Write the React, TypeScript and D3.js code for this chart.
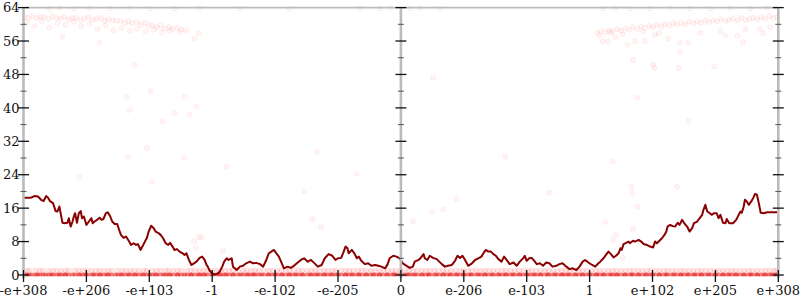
import React from 'react';
import * as d3 from 'd3';

const W = 800;
const H = 300;

// x axis: bit-pattern bins 0..1200, ticks every 100
const xTickBins = [0, 100, 200, 300, 400, 500, 600, 700, 800, 900, 1000, 1100, 1200];
const xTickLabels = ['-e+308', '-e+206', '-e+103', '-1', '-e-102', '-e-205', '0', 'e-206', 'e-103', '1', 'e+102', 'e+205', 'e+308'];
const yMajorTicks = [0, 8, 16, 24, 32, 40, 48, 56, 64];
const yMinorTicks = [4, 12, 20, 28, 36, 44, 52, 60];
const axisBins = [0, 600, 1200];

// main line: [bin, value]
const lineLeft: [number, number][] = [
  [0,18.5],[12,18.5],[18,18.9],[23,18.8],[28,18.0],[32,17.7],[36,18.9],[39,18.5],[42,17.7],[47,17.2],
  [51,15.3],[54,15.2],[57,16.4],[59,14.8],[62,12.5],[65,12.4],[70,12.5],[72,13.6],[75,11.6],[78,12.8],
  [80,14.0],[82,14.8],[85,12.5],[88,14.8],[91,15.3],[93,13.6],[96,14.0],[100,12.0],[104,12.8],[108,13.6],
  [110,12.4],[113,12.8],[117,13.2],[121,13.7],[124,13.2],[127,13.4],[131,14.8],[134,15.0],[138,14.0],[141,12.8],
  [145,12.2],[149,12.2],[152,10.8],[155,9.6],[159,8.9],[163,9.2],[168,8.0],[171,7.2],[175,7.6],[179,7.2],
  [182,7.4],[186,6.0],[189,6.8],[193,8.0],[196,8.8],[199,10.4],[203,11.8],[207,11.2],[210,10.4],[214,10.1],
  [218,9.6],[222,8.8],[226,7.6],[230,7.2],[233,7.7],[237,6.8],[240,6.0],[244,6.2],[248,5.6],[253,5.2],
  [256,4.8],[259,5.2],[263,3.6],[267,2.4],[271,2.8],[275,3.2],[280,4.1],[284,4.4],[288,3.6],[291,2.4],
  [293,2.0],[296,1.0],[300,0.4]
];
const lineMidLeft: [number, number][] = [
  [301,0.2],[307,0.2],[312,0.8],[316,2.0],[319,3.2],[323,4.0],[326,3.6],[331,4.0],[333,2.0],[339,1.2],
  [344,2.0],[349,2.2],[354,2.8],[360,3.2],[365,2.8],[370,2.9],[376,2.6],[381,2.0],[386,3.6],[390,5.2],
  [394,5.6],[398,6.0],[402,5.2],[406,4.4],[410,3.0],[414,1.6],[420,2.0],[425,1.7],[430,2.2],[436,3.0],
  [441,3.6],[446,4.0],[452,3.2],[457,3.6],[462,2.9],[468,2.0],[474,2.4],[479,4.0],[485,5.0],[491,4.6],
  [496,3.6],[500,4.0],[505,4.1],[508,5.2],[512,6.8],[515,6.4],[517,5.2],[522,6.0],[526,5.2],[530,4.0],
  [533,4.4],[537,3.4],[543,2.6],[548,2.8],[553,2.2],[559,2.4],[564,2.2],[569,2.0],[575,1.6],[579,2.6],
  [582,4.0],[588,4.6],[593,4.4],[598,4.0]
];
const lineMidRight: [number, number][] = [
  [603,2.8],[609,2.2],[614,1.7],[619,2.0],[622,3.2],[628,3.6],[631,4.0],[636,5.0],[638,4.0],[642,3.6],
  [646,4.6],[651,4.1],[657,3.8],[661,3.2],[665,2.6],[670,2.0],[675,2.2],[681,2.4],[686,3.4],[690,4.6],
  [694,4.1],[698,4.6],[702,3.6],[707,2.2],[713,2.8],[718,3.6],[723,4.0],[728,4.4],[732,5.4],[735,6.0],
  [739,5.6],[743,5.6],[747,5.0],[751,4.6],[755,3.8],[760,3.2],[764,4.4],[768,3.6],[773,2.6],[779,3.0],
  [784,2.2],[789,3.2],[795,4.1],[797,4.6],[800,3.4],[804,4.0],[808,4.1],[812,3.4],[816,2.6],[821,2.8],
  [826,2.2],[831,3.0],[836,2.8],[841,2.0],[847,2.2],[852,2.6],[857,2.8],[863,2.0],[868,1.4],[873,1.6],
  [879,1.2],[884,2.0],[889,3.2],[893,3.6],[898,3.0],[904,2.4],[909,2.0],[914,2.8]
];
const lineRight: [number, number][] = [
  [917,3.2],[922,4.0],[926,4.8],[930,5.6],[934,5.0],[938,4.2],[942,4.6],[946,5.2],[949,6.4],[951,6.0],
  [954,7.4],[958,7.7],[962,8.0],[964,7.6],[969,8.2],[972,8.0],[978,8.4],[982,8.0],[986,7.4],[991,7.2],
  [996,6.8],[1001,6.6],[1004,8.0],[1007,7.6],[1011,8.2],[1015,8.8],[1019,9.6],[1022,10.4],[1024,11.6],[1028,12.0],
  [1032,11.7],[1036,11.6],[1040,12.5],[1043,12.0],[1047,13.2],[1050,12.5],[1055,11.6],[1059,10.4],[1063,11.2],[1066,12.4],
  [1071,12.8],[1075,13.6],[1079,14.4],[1081,15.6],[1084,16.8],[1087,15.2],[1091,14.8],[1094,14.4],[1098,14.8],[1102,14.8],
  [1105,13.6],[1108,14.4],[1112,12.5],[1116,12.4],[1118,13.4],[1122,12.4],[1128,12.4],[1133,13.2],[1137,14.4],[1140,15.2],
  [1142,14.9],[1145,16.4],[1147,18.0],[1150,17.6],[1153,16.8],[1157,17.6],[1160,18.4],[1163,19.4],[1166,19.2],[1169,17.2],
  [1172,14.9],[1177,14.8],[1182,15.0],[1200,15.0]
];

// faint scatter: [bin, value]
const topRowLeft: [number, number][] = [
  [2,61.9],[8,61.6],[14,62.0],[21,61.5],[27,61.8],[33,61.7],[40,61.3],[46,61.9],[53,61.6],[59,61.4],
  [65,61.8],[72,61.2],[78,61.6],[84,61.5],[91,61.0],[97,61.4],[103,61.7],[110,61.1],[116,61.3],[123,61.5],
  [129,60.9],[135,61.2],[142,61.0],[148,60.8],[154,60.9],[161,60.4],[167,60.7],[173,60.2],[180,60.5],[186,59.9],
  [193,60.3],[199,59.6],[205,59.8],[212,59.3],[218,59.7],[224,59.0],[231,59.4],[237,58.8],[244,59.2],
  [5,60.4],[18,59.6],[29,60.8],[41,59.2],[54,60.2],[67,59.9],[80,60.6],[92,59.5],[105,60.1],[118,58.9],
  [131,59.7],[143,58.6],[156,59.1],[169,58.4],[181,58.9],[194,58.2],[207,58.7],[220,58.0],[232,58.5],[248,58.1],[258,58.6]
];
const topRowRight: [number, number][] = [
  [1198,61.8],[1192,61.5],[1186,61.9],[1179,61.4],[1173,61.7],[1167,61.2],[1160,61.6],[1154,61.3],[1148,61.0],[1141,61.5],
  [1135,60.9],[1128,61.3],[1122,61.1],[1116,60.8],[1109,61.2],[1103,60.7],[1097,61.0],[1090,60.5],[1084,60.9],[1077,60.4],
  [1071,60.7],[1065,60.2],[1058,60.6],[1052,60.0],[1046,60.4],[1039,59.9],[1033,60.3],[1027,59.7],[1020,60.1],[1014,59.5],
  [1007,59.9],[1001,59.3],[995,59.7],[988,59.1],[982,59.5],[976,58.9],[969,59.3],[963,58.7],[957,59.0],[950,58.5],
  [944,58.8],[937,58.3],[931,58.6],[925,58.1],[918,58.4],[912,57.9],
  [921,55.9],[929,55.9],[960,55.1],[972,56.0],[988,56.0],[1025,56.5],[1044,55.6],[1057,55.6],[1116,57.3],[1135,57.3],
  [1144,55.7],[1171,58.9],[1176,57.9],[1004,57.5],[1076,58.0],[1108,58.4],[1148,58.8],[1187,59.3],[941,57.0],
  [916,57.4],[933,58.0],[953,57.6],[985,58.2],[1010,57.9]
];
const topEdge: [number, number][] = [
  [41,63.8],[57,63.9],[81,63.7],[105,63.9],[137,63.8],[169,63.9],[201,63.7],[240,63.8],[280,63.9],[344,63.8],
  [423,63.7],[535,63.9],[567,63.8],[583,63.9],[615,63.8],[630,63.9],[662,63.7],[921,63.8],[941,63.9],[964,63.7],
  [996,63.8],[1028,63.9],[1060,63.8],[1092,63.7],[1124,63.9],[1155,63.8],[1182,63.9]
];
const scattered: [number, number][] = [
  [62,57.0],[121,55.6],[177,50.3],[164,42.7],[169,39.5],[202,44.1],[221,36.7],[256,42.7],[275,40.3],[240,38.8],
  [264,38.4],[196,30.4],[272,56.6],[279,57.8],[251,58.7],[89,23.5],[166,28.3],[256,28.0],[204,22.3],[271,8.1],
  [279,9.1],[274,6.5],[323,25.9],[283,8.9],[317,5.8],[446,19.9],[460,13.4],[473,11.5],[530,24.2],[466,29.5],
  [619,12.9],[649,15.1],[667,15.6],[688,18.2],[766,28.3],[836,19.7],[937,27.1],[966,21.1],[968,19.7],[1039,21.1],
  [925,12.7],[941,9.6],[937,8.4],[976,16.3],[953,4.1],[969,11.0],[969,51.5],[1001,50.3],[1003,49.6],[1041,49.6],
  [1098,49.9],[976,42.4],[1057,36.9],[651,47.2],[1044,53.5]
];
// bottom band: bins holding value 0 and value 1
const zeroBins = [
  2,13,22,35,44,57,66,78,90,99,111,122,133,146,155,167,178,189,201,210,223,233,245,256,267,279,288,301,312,322,
  334,345,357,366,378,389,400,411,423,433,444,456,467,478,489,500,512,522,533,545,556,566,578,589,600,611,622,634,
  644,656,667,678,689,700,711,723,733,745,756,767,778,789,800,812,822,834,845,856,866,878,889,900,911,922,934,944,
  956,967,978,989,1000,1011,1022,1034,1045,1056,1067,1078,1089,1100,1112,1122,1133,1145,1156,1167,1178,1189,1198
];
const oneBins = [
  5,19,31,47,60,72,88,101,115,128,140,157,170,183,196,212,226,238,251,266,280,293,307,320,333,349,362,374,390,403,
  417,430,443,458,471,484,497,512,525,538,552,566,579,592,606,619,633,646,660,673,687,700,713,727,740,754,767,781,
  795,808,822,835,849,862,876,889,903,916,930,943,957,970,984,997,1011,1024,1038,1051,1065,1078,1092,1105,1119,1132,
  1146,1159,1173,1186,1197,
  9,26,40,53,67,82,95,108,121,135,150,163,176,191,205,218,231,245,260,273,286,300,314,327,341,355,368,382,396,410,
  423,437,451,464,478,491,505,518,532,545,559,572,586,599,613,626,640,653,667,680,694,707,720,734,747,761,774,788,
  802,815,829,842,856,869,883,896,910,923,937,950,964,977,991,1004,1018,1031,1045,1058,1072,1085,1099,1112,1126,1139,
  1153,1166,1180,1193
];

export default function App() {
  const x = d3.scaleLinear().domain([0, 1200]).range([23.5, 778.3]);
  const y = d3.scaleLinear().domain([0, 64]).range([275, 7.6]);
  const line = d3.line<[number, number]>().x(d => x(d[0])).y(d => y(d[1]));
  const allLine = [...lineLeft, ...lineMidLeft, ...lineMidRight, ...lineRight];
  const faint = [...topRowLeft, ...topRowRight, ...topEdge, ...scattered];
  const zeroAll = [...zeroBins, ...oneBins];
  const font = { fontFamily: '"DejaVu Serif", serif', fontSize: 13, fill: '#111' };

  return (
    <svg width={W} height={H} style={{ position: 'absolute', left: 0, top: 0, background: '#fff' }}>
      <defs>
        <clipPath id="plotclip">
          <rect x={0} y={0} width={W} height={276.2} />
        </clipPath>
      </defs>
      <g clipPath="url(#plotclip)">
        {oneBins.map((b, i) => (
          <circle key={'o' + i} cx={x(b)} cy={y(1)} r={2.7} fill="rgba(255,0,0,0.1)" stroke="rgba(255,0,0,0.08)" strokeWidth={0.8} />
        ))}
        {zeroAll.map((b, i) => (
          <circle key={'z' + i} cx={x(b)} cy={y(0)} r={2.6} fill="rgba(232,20,20,0.5)" stroke="none" />
        ))}
        {faint.map((d, i) => (
          <circle key={'f' + i} cx={x(d[0])} cy={y(d[1])} r={2.5} fill="rgba(255,0,0,0.04)" stroke="rgba(255,0,0,0.08)" strokeWidth={0.8} />
        ))}
      </g>
      <path d={line(allLine) || ''} fill="none" stroke="#8b0000" strokeWidth={2} strokeLinejoin="round" />
      {/* top frame line */}
      <line x1={x(0)} x2={x(1200)} y1={y(64)} y2={y(64)} stroke="#bbb" strokeWidth={1.8} />
      {/* vertical axes */}
      {axisBins.map(b => (
        <g key={'ax' + b}>
          <line x1={x(b)} x2={x(b)} y1={y(64)} y2={y(0) + 3} stroke="#bbb" strokeWidth={2.6} />
          {yMinorTicks.map(t => (
            <line key={'mn' + t} x1={x(b) - 3} x2={x(b) + 3} y1={y(t)} y2={y(t)} stroke="#555" strokeWidth={1} />
          ))}
          {yMajorTicks.map(t => (
            <line key={'mj' + t} x1={x(b) - 5.5} x2={x(b) + 5.5} y1={y(t)} y2={y(t)} stroke="#111" strokeWidth={1.3} />
          ))}
        </g>
      ))}
      {yMajorTicks.map(t => (
        <text key={'yl' + t} x={x(0) - 4} y={y(t)} dy="0.36em" textAnchor="end" {...font}>{t}</text>
      ))}
      {xTickBins.map((b, i) => (
        <g key={'xt' + b}>
          <line x1={x(b)} x2={x(b)} y1={y(0) - 5} y2={y(0) + 7} stroke="#111" strokeWidth={1.3} />
          <text x={x(b)} y={295} textAnchor="middle" {...font}>{xTickLabels[i]}</text>
        </g>
      ))}
    </svg>
  );
}
